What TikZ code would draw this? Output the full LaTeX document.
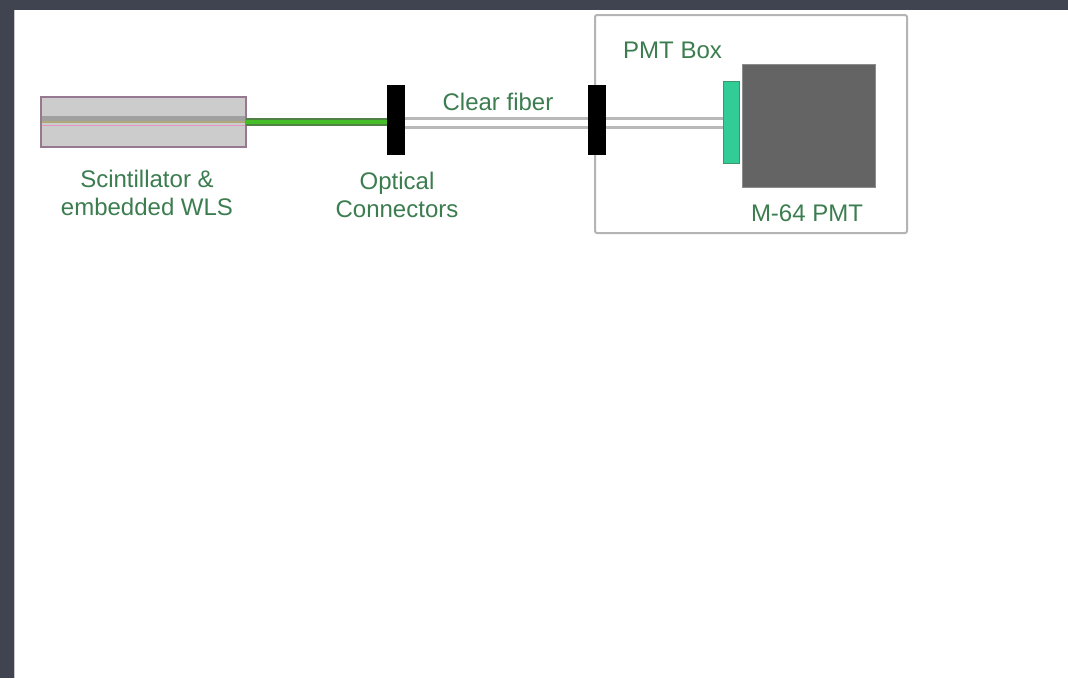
\documentclass[tikz,border=0pt]{standalone}
\usepackage{fontspec}
\setmainfont{Liberation Sans}
\definecolor{bgslate}{RGB}{64,68,80}
\definecolor{edgegray}{RGB}{200,200,204}
\definecolor{labelgreen}{RGB}{60,125,80}
\definecolor{scintgray}{RGB}{204,204,204}
\definecolor{scintedge}{RGB}{150,120,145}
\definecolor{stripegray}{RGB}{160,160,160}
\definecolor{stripetan}{RGB}{176,168,120}
\definecolor{stripepink}{RGB}{228,150,195}
\definecolor{fibergreen}{RGB}{70,190,40}
\definecolor{fiberedge}{RGB}{80,130,70}
\definecolor{fibergray}{RGB}{185,185,185}
\definecolor{boxgray}{RGB}{180,180,180}
\definecolor{windowgreen}{RGB}{50,204,150}
\definecolor{windowedge}{RGB}{60,150,105}
\definecolor{pmtgray}{RGB}{100,100,100}
\definecolor{pmtedge}{RGB}{140,140,140}
\begin{document}
\begin{tikzpicture}[x=1pt,y=-1pt,
  lbl/.style={text=labelgreen, font=\fontsize{24}{28}\selectfont, inner sep=0pt, align=center},
  block/.style={inner sep=0pt, outer sep=0pt, anchor=north west},
  clearline/.style={draw=fibergray, line width=2.6pt},
]
\useasboundingbox (0,0) rectangle (1068,678);
% slide background and white page
\fill[bgslate] (0,0) rectangle (1068,678);
\fill[white] (14,10) rectangle (1068,678);
\draw[edgegray, line width=1pt] (14.5,10) -- (14.5,678);

% scintillator bar with the embedded WLS fibre
\node[block, minimum width=205pt, minimum height=50pt, fill=scintgray,
      draw=scintedge, line width=1.2pt] (scint) at (41,97) {};
\fill[stripegray] (41.6,115.5) rectangle (245.4,121);
\draw[stripetan, line width=1.6pt] (41.6,122) -- (245.4,122);
\draw[stripepink, line width=1.6pt] (41.6,125.4) -- (245.4,125.4);

% PMT box outline
\node[block, minimum width=312pt, minimum height=218pt, draw=boxgray,
      line width=2pt, rounded corners=2pt] (pmtbox) at (595,15) {};

% PMT with its green entrance window
\node[block, minimum width=16pt, minimum height=82pt, fill=windowgreen,
      draw=windowedge, line width=1pt] (win) at (723,81) {};
\node[block, minimum width=133pt, minimum height=123pt, fill=pmtgray,
      draw=pmtedge, line width=1pt] (pmt) at (742,64) {};

% optical connectors
\node[block, minimum width=18pt, minimum height=70pt, fill=black] (con1) at (387,85) {};
\node[block, minimum width=18pt, minimum height=70pt, fill=black] (con2) at (588,85) {};

% WLS fibre leaving the scintillator
\draw[fiberedge, line width=8pt] ([yshift=0.5pt]scint.east) -- ([yshift=0.5pt]scint.east -| con1.west);
\draw[fibergreen, line width=4pt] ([yshift=0.5pt]scint.east) -- ([yshift=0.5pt]scint.east -| con1.west);

% clear fibre between connectors and into the PMT box
\draw[clearline] ([yshift=1.5pt]con1.east) -- ([yshift=1.5pt]con2.west);
\draw[clearline] ([yshift=-7.3pt]con1.east) -- ([yshift=-7.3pt]con2.west);
\draw[clearline] ([yshift=1.5pt]con2.east) -- ([yshift=1.5pt]con2.east -| win.west);
\draw[clearline] ([yshift=-7.3pt]con2.east) -- ([yshift=-7.3pt]con2.east -| win.west);

% labels (base anchor sits on the last line of a two-line label)
\node[lbl, anchor=base] (scintlbl) at (147,215) {Scintillator \&\\embedded WLS};
\node[lbl, anchor=base] (conlbl) at (397,217) {Optical\\Connectors};
\node[lbl, anchor=base] (fiberlbl) at (498,110) {Clear fiber};
\node[lbl, anchor=base west] (boxlbl) at (623,58) {PMT Box};
\node[lbl, anchor=base] (pmtlbl) at (807,221) {M-64 PMT};
\end{tikzpicture}
\end{document}
